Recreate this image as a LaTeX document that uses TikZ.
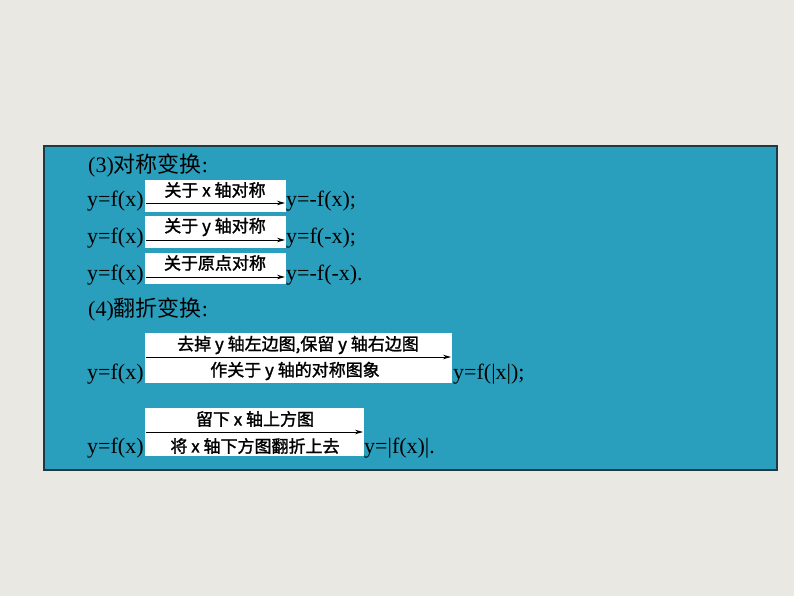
\documentclass[tikz,border=0pt]{standalone}
\usetikzlibrary{arrows.meta}
\usepackage{fontspec}
\setmainfont{Liberation Serif}
\newfontfamily\cjk{Noto Sans CJK SC}
\newfontfamily\cjkb{Noto Sans CJK SC}[FakeBold=1.5]
\definecolor{bg}{HTML}{E9E8E2}
\definecolor{teal}{HTML}{2A9FBD}
\definecolor{edge}{HTML}{1E3A44}
\begin{document}
\begin{tikzpicture}[x=1pt,y=-1pt,
  txt/.style={font=\fontsize{22}{22}\selectfont,anchor=west,inner sep=0,text=black},
  lab/.style={font=\cjkb\fontsize{17}{17}\selectfont,inner sep=0,text=black},
  wbox/.style={fill=white,draw=none},
  arr/.style={-{Stealth[length=8pt,width=4.5pt]},line width=0.9pt,black}]
\useasboundingbox (0,0) rectangle (794,596);
\fill[bg] (0,0) rectangle (794,596);
\fill[teal,draw=edge,line width=1.2pt] (44,146) rectangle (777,470);
\node[txt] (t3) at (88,166) {(3){\cjk 对称变换}:};
% row 1
\fill[wbox] (145,180) rectangle (286,212);
\node[txt] (a1) at (87,201) {y=f(x)};
\coordinate (s1) at (146,203); \coordinate (e1) at (285,203);
\draw[arr] (s1) -- (e1);
\node[lab] (l1) at (215,190) {关于 x 轴对称};
\node[txt] (b1) at (286,201) {y=-f(x);};
% row 2
\fill[wbox] (145,216) rectangle (286,248);
\node[txt] (a2) at (87,238) {y=f(x)};
\coordinate (s2) at (146,240); \coordinate (e2) at (285,240);
\draw[arr] (s2) -- (e2);
\node[lab] (l2) at (215,227) {关于 y 轴对称};
\node[txt] (b2) at (286,238) {y=f(-x);};
% row 3
\fill[wbox] (145,253) rectangle (286,284);
\node[txt] (a3) at (87,275) {y=f(x)};
\coordinate (s3) at (146,277); \coordinate (e3) at (285,277);
\draw[arr] (s3) -- (e3);
\node[lab] (l3) at (215,263) {关于原点对称};
\node[txt] (b3) at (286,275) {y=-f(-x).};
\node[txt] (t4) at (88,310) {(4){\cjk 翻折变换}:};
% row 4
\fill[wbox] (145,333) rectangle (452,383);
\node[txt] (a4) at (87,374) {y=f(x)};
\coordinate (s4) at (146,357); \coordinate (e4) at (451,357);
\draw[arr] (s4) -- (e4);
\node[lab] (l4) at (298,345) {去掉 y 轴左边图,保留 y 轴右边图};
\node[lab] (m4) at (295,371) {作关于 y 轴的对称图象};
\node[txt] (b4) at (453,374) {y=f(|x|);};
% row 5
\fill[wbox] (145,408) rectangle (364,456);
\node[txt] (a5) at (87,448) {y=f(x)};
\coordinate (s5) at (146,432); \coordinate (e5) at (363,432);
\draw[arr] (s5) -- (e5);
\node[lab] (l5) at (255,419) {留下 x 轴上方图};
\node[lab] (m5) at (255,446) {将 x 轴下方图翻折上去};
\node[txt] (b5) at (364,448) {y=|f(x)|.};
\end{tikzpicture}
\end{document}
